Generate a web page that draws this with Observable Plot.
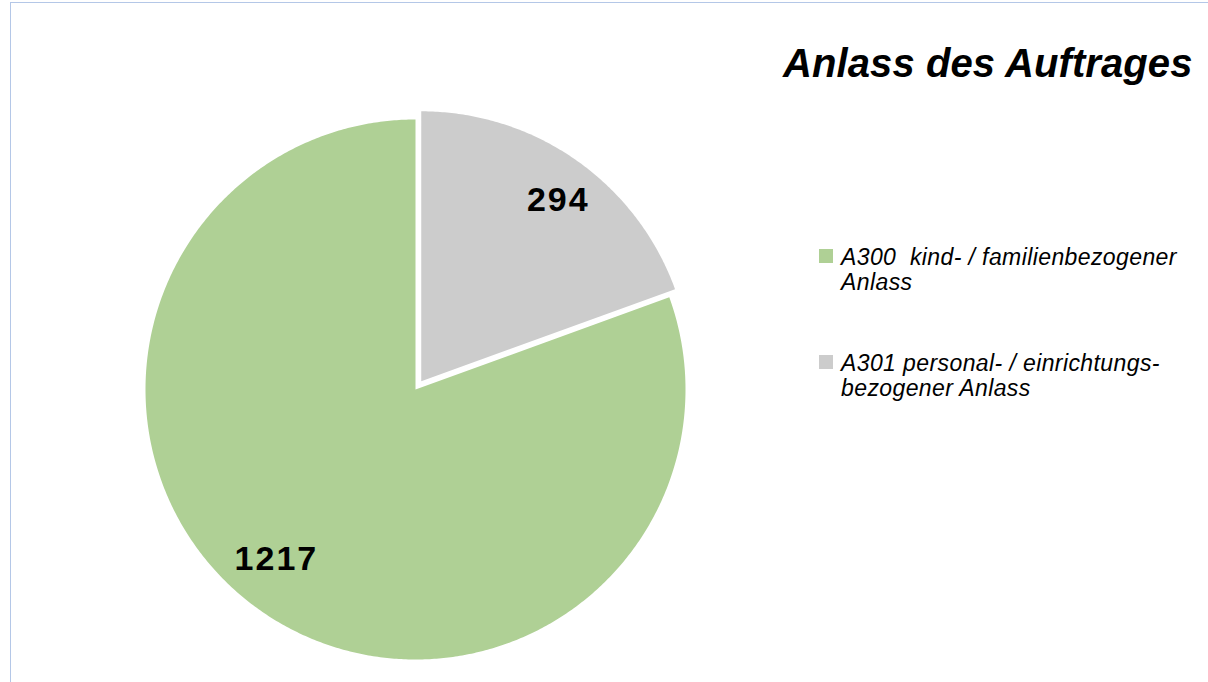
<!DOCTYPE html>
<html>
<head>
<meta charset="utf-8">
<script src="https://cdn.jsdelivr.net/npm/d3@7"></script>
<script src="https://cdn.jsdelivr.net/npm/@observablehq/plot@0.6"></script>
<style>
  html, body { margin: 0; padding: 0; background: #fff; }
  #wrap { position: relative; width: 1208px; height: 682px; overflow: hidden; font-family: "Liberation Sans", Arial, sans-serif; }
  #frame { position: absolute; left: 10px; top: 2px; right: -2px; bottom: -2px; border-left: 1px solid #b4c7e7; border-top: 1px solid #b4c7e7; }
  #chart { position: absolute; left: 0; top: 0; }
  #title { position: absolute; left: 783px; top: 43px; font-size: 40px; line-height: 40px; font-weight: bold; font-style: italic; color: #000; white-space: nowrap; letter-spacing: 0.1px; }
  .leg { position: absolute; left: 841px; font-size: 23px; line-height: 25px; font-style: italic; color: #000; white-space: pre; letter-spacing: 0.4px; }
  .sw { position: absolute; left: 819px; width: 14px; height: 14px; }
</style>
</head>
<body>
<div id="wrap">
  <div id="frame"></div>
  <div id="chart"></div>
  <div id="title"></div>
  <div id="legend"></div>
</div>
<script>
// ---- data ----
const categories = ["A300  kind- / familienbezogener\nAnlass", "A301 personal- / einrichtungs-\nbezogener Anlass"];
const values = [1217, 294];
const colors = ["#afd095", "#cccccc"];
const titleText = "Anlass des Auftrages";

// ---- geometry (in radius units; scales map them to pixels) ----
const W = 1208, H = 682;
const cx = 415, cy = 389, R = 270;
const explode = [0, 10 / R];
const labelNudge = [[-12, -12], [10, 0]];

// LibreOffice style: start at 12 o'clock, counter-clockwise
const arcs = d3.pie().sort(null).startAngle(0).endAngle(-2 * Math.PI)(values);

const slices = arcs.map((a, i) => {
  const mid = (a.startAngle + a.endAngle) / 2;
  const ox = explode[i] * Math.sin(mid), oy = explode[i] * Math.cos(mid);
  const n = Math.max(2, Math.ceil(Math.abs(a.endAngle - a.startAngle) / (Math.PI / 360)));
  const pts = [{x: ox, y: oy}];
  for (let k = 0; k <= n; k++) {
    const t = a.startAngle + (a.endAngle - a.startAngle) * k / n;
    pts.push({x: ox + Math.sin(t), y: oy + Math.cos(t)});
  }
  pts.push({x: ox, y: oy});
  return {pts, color: colors[i], mid, ox, oy, value: a.value};
});

const labels = slices.map(s => ({
  x: s.ox + 0.82 * Math.sin(s.mid),
  y: s.oy + 0.82 * Math.cos(s.mid),
  text: String(s.value)
}));

const plot = Plot.plot({
  width: W,
  height: H,
  margin: 0,
  style: {background: "transparent", fontFamily: "Liberation Sans, Arial, sans-serif"},
  x: {domain: [-cx / R, (W - cx) / R], range: [0, W], axis: null},
  y: {domain: [-(H - cy) / R, cy / R], range: [H, 0], axis: null},
  marks: [
    ...slices.map(s => Plot.line(s.pts, {x: "x", y: "y", fill: s.color, stroke: "none", curve: "linear-closed"})),
    ...labels.map((l, i) => Plot.text([l], {x: "x", y: "y", text: "text", fontSize: 34, fontWeight: "bold", fill: "#000", textAnchor: "middle", lineAnchor: "middle", dx: labelNudge[i][0], dy: labelNudge[i][1]}))
  ]
});
plot.querySelectorAll("text").forEach(t => t.style.letterSpacing = "2px");
document.getElementById("chart").appendChild(plot);

document.getElementById("title").textContent = titleText;

const legend = document.getElementById("legend");
const tops = [245, 351];
categories.forEach((c, i) => {
  const sw = document.createElement("div");
  sw.className = "sw";
  sw.style.top = (tops[i] + 4) + "px";
  sw.style.background = colors[i];
  legend.appendChild(sw);
  const t = document.createElement("div");
  t.className = "leg";
  t.style.top = tops[i] + "px";
  t.textContent = c;
  legend.appendChild(t);
});
</script>
</body>
</html>
